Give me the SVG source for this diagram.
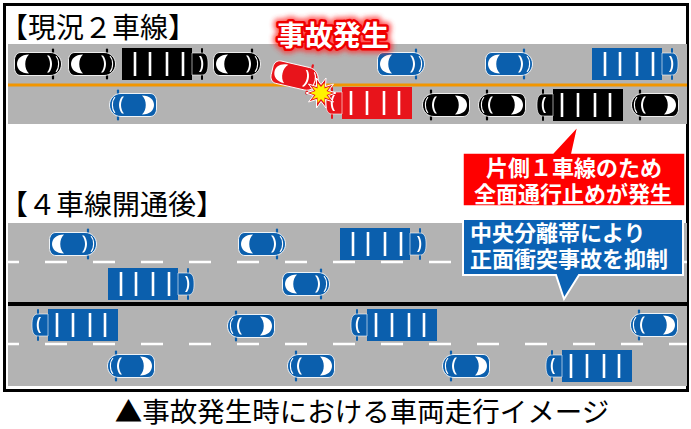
<svg xmlns="http://www.w3.org/2000/svg" xmlns:xlink="http://www.w3.org/1999/xlink" width="691" height="429" viewBox="0 0 691 429">
  <style>
    .road { fill: #b3b3b3; }
    .jp { font-family: "Noto Sans CJK JP", "Noto Sans", sans-serif; }
    .head { font-size: 28px; fill: #000; }
    .callout-text { font-size: 22px; font-weight: bold; fill: #fff; }
    .blk { color: #000; }
    .blu { color: #0b5fad; }
    .red { color: #e8141b; }
    .lane-dash { stroke: #fff; stroke-width: 2.5; stroke-dasharray: 22 26; stroke-dashoffset: 11; fill: none; }
  </style>
  <defs>
    <!-- passenger car seen from above, nose pointing right, centred on the origin -->
    <g id="car">
      <line x1="15" y1="-14.5" x2="15" y2="14.5" stroke="currentColor" stroke-width="2.2" stroke-linecap="round"/>
      <path d="M-17,-11.5 H12 C19,-11.5 23.5,-6 23.5,0 C23.5,6 19,11.5 12,11.5 H-17 C-21,11.5 -23.5,8 -23.5,4 V-4 C-23.5,-8 -21,-11.5 -17,-11.5 Z" fill="currentColor" stroke="#fff" stroke-width="0.9"/>
      <path d="M-9,-9.5 C-17,-9.5 -21,-5 -21,0 C-21,5 -17,9.5 -9,9.5 C-14,5 -14,-5 -9,-9.5 Z" fill="#fff"/>
      <path d="M9,-8.5 C13,-4 13,4 9,8.5 L11,8.5 C15,4 15,-4 11,-8.5 Z" fill="#fff"/>
      <path d="M18,-8 C21.5,-4 21.5,4 18,8" fill="none" stroke="#fff" stroke-width="1.1"/>
    </g>
    <!-- lorry seen from above: load bed from x=0 to 70, cab on the right -->
    <g id="truck">
      <rect x="0" y="-16" width="70" height="32" fill="currentColor"/>
      <g stroke="#fff" stroke-width="2.6">
        <line x1="13" y1="-12" x2="13" y2="12"/>
        <line x1="28" y1="-12" x2="28" y2="12"/>
        <line x1="45" y1="-12" x2="45" y2="12"/>
        <line x1="61" y1="-12" x2="61" y2="12"/>
      </g>
      <line x1="80" y1="-15" x2="80" y2="15" stroke="currentColor" stroke-width="2" stroke-linecap="round"/>
      <path d="M70,-11 H80 C85,-11 86,-6 86,0 C86,6 85,11 80,11 H70 Z" fill="currentColor" stroke="#fff" stroke-width="0.6"/>
      <path d="M77,-8 C80,-4 80,4 77,8 L79,8 C82,4 82,-4 79,-8 Z" fill="#fff"/>
    </g>
    <filter id="glow" x="-20%" y="-40%" width="140%" height="180%">
      <feGaussianBlur stdDeviation="2.4"/>
    </filter>
  </defs>

  <!-- outer frame -->
  <rect x="4.5" y="4.5" width="683" height="386" fill="#fff" stroke="#000" stroke-width="3"/>

  <!-- current two-lane road -->
  <g id="road-2lane">
    <rect class="road" x="8" y="44" width="679" height="80"/>
    <line x1="8" y1="85" x2="687" y2="85" stroke="#f29600" stroke-width="3"/>
  </g>

  <!-- four-lane road -->
  <g id="road-4lane">
    <rect class="road" x="8" y="223" width="679" height="163"/>
    <line class="lane-dash" x1="8" y1="262" x2="687" y2="262"/>
    <line class="lane-dash" x1="8" y1="344" x2="687" y2="344"/>
    <line x1="8" y1="304" x2="687" y2="304" stroke="#000" stroke-width="4"/>
  </g>

  <!-- headings -->
  <text id="title-now" class="jp head" x="0" y="38">【現況２車線】</text>
  <text id="title-after" class="jp head" x="0" y="215">【４車線開通後】</text>

  <!-- traffic on the two-lane road -->
  <g id="traffic-2lane">
    <use xlink:href="#car" class="blk" transform="translate(38,64)"/>
    <use xlink:href="#car" class="blk" transform="translate(92,64)"/>
    <use xlink:href="#truck" class="blk" transform="translate(122,64)"/>
    <use xlink:href="#car" class="blk" transform="translate(237,64)"/>
    <use xlink:href="#car" class="blu" transform="translate(401,64)"/>
    <use xlink:href="#car" class="blu" transform="translate(509,64)"/>
    <use xlink:href="#truck" class="blu" transform="translate(592,64)"/>

    <use xlink:href="#car" class="blu" transform="translate(133,105) scale(-1,1)"/>
    <use xlink:href="#car" class="blk" transform="translate(446,105) scale(-1,1)"/>
    <use xlink:href="#car" class="blk" transform="translate(502,105) scale(-1,1)"/>
    <use xlink:href="#truck" class="blk" transform="translate(623,105) scale(-1,1)"/>
    <use xlink:href="#car" class="blk" transform="translate(655,105) scale(-1,1)"/>
  </g>

  <!-- collision -->
  <g id="accident">
    <use xlink:href="#truck" class="red" transform="translate(412,103) scale(-1,1)"/>
    <use xlink:href="#car" class="red" transform="translate(295,76) rotate(13)"/>
    <polygon points="336,93 328.5,95.5 333.5,102 325.5,99.5 326,108 321,101.5 316.5,108 316.5,99.5 308.5,102 313.5,95.5 306,93 313.5,90.5 308.5,84 316.5,86.5 316.5,78 321,84.5 326,78 325.5,86.5 333.5,84 328.5,90.5" fill="#e8141b" stroke="#fff" stroke-width="1"/>
    <polygon points="332,93 326.5,95 330,99.5 324.5,97.5 324.5,103 321,99 317.5,103 317.5,97.5 312,99.5 315.5,95 310,93 315.5,91 312,86.5 317.5,88.5 317.5,83 321,87 324.5,83 324.5,88.5 330,86.5 326.5,91" fill="#fff200"/>
  </g>

  <!-- accident label -->
  <g id="accident-label" class="jp" font-size="28" font-weight="bold">
    <text x="277" y="46" fill="#ff3030" stroke="#ff3030" stroke-width="10" stroke-linejoin="round" filter="url(#glow)" opacity="0.8">事故発生</text>
    <text x="277" y="46" fill="#fff" stroke="#f00000" stroke-width="5" stroke-linejoin="round">事故発生</text>
    <text x="277" y="46" fill="#fff">事故発生</text>
  </g>

  <!-- traffic on the four-lane road -->
  <g id="traffic-4lane">
    <use xlink:href="#car" class="blu" transform="translate(73,244)"/>
    <use xlink:href="#car" class="blu" transform="translate(262,244)"/>
    <use xlink:href="#truck" class="blu" transform="translate(340,244)"/>

    <use xlink:href="#truck" class="blu" transform="translate(108,284)"/>
    <use xlink:href="#car" class="blu" transform="translate(306,284)"/>

    <use xlink:href="#truck" class="blu" transform="translate(118,325) scale(-1,1)"/>
    <use xlink:href="#car" class="blu" transform="translate(251,326) scale(-1,1)"/>
    <use xlink:href="#truck" class="blu" transform="translate(437,325) scale(-1,1)"/>
    <use xlink:href="#car" class="blu" transform="translate(654,325) scale(-1,1)"/>

    <use xlink:href="#car" class="blu" transform="translate(131,366) scale(-1,1)"/>
    <use xlink:href="#car" class="blu" transform="translate(311,366) scale(-1,1)"/>
    <use xlink:href="#car" class="blu" transform="translate(466,366) scale(-1,1)"/>
    <use xlink:href="#truck" class="blu" transform="translate(632,366) scale(-1,1)"/>
  </g>

  <!-- callouts -->
  <g id="callout-closure">
    <path d="M463,153 H553 L578,126 L572,153 H685 V206 H463 Z" fill="#ff0000" stroke="#fff" stroke-width="1.5"/>
    <text class="jp callout-text" x="574" y="176" text-anchor="middle">片側１車線のため</text>
    <text class="jp callout-text" x="573" y="202" text-anchor="middle">全面通行止めが発生</text>
  </g>
  <g id="callout-median">
    <path d="M463,219 H683 V275 H579 L564,299 L556,275 H463 Z" fill="#0b62b4" stroke="#fff" stroke-width="2"/>
    <text class="jp callout-text" x="470" y="241" font-size="22.5">中央分離帯により</text>
    <text class="jp callout-text" x="470" y="267" font-size="22.5">正面衝突事故を抑制</text>
  </g>

  <!-- caption -->
  <text id="caption" class="jp" x="362" y="422" font-size="27.5" text-anchor="middle" fill="#000">▲事故発生時における車両走行イメージ</text>
</svg>
